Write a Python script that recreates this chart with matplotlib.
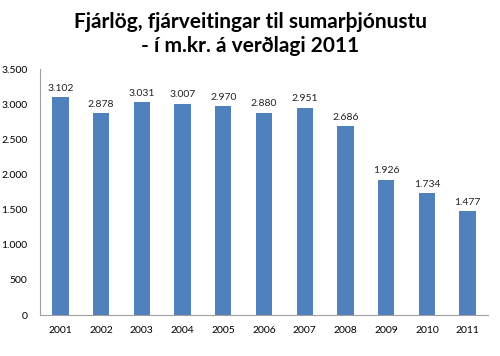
import matplotlib
matplotlib.use('Agg')
import matplotlib.pyplot as plt

years = ['2001', '2002', '2003', '2004', '2005', '2006', '2007', '2008', '2009', '2010', '2011']
values = [3102, 2878, 3031, 3007, 2970, 2880, 2951, 2686, 1926, 1734, 1477]
yticks = [0, 500, 1000, 1500, 2000, 2500, 3000, 3500]

def isl(v):
    return f'{v:,}'.replace(',', '.')

plt.rcParams['font.family'] = ['Lato', 'DejaVu Sans']

fig = plt.figure(figsize=(5, 3.56), dpi=100)
ax = fig.add_axes([0.08, 0.115, 0.896, 0.691])

x = range(len(years))
ax.bar(x, values, width=0.4, color='#4F81BD')
for i, v in zip(x, values):
    ax.text(i, v + 60, isl(v), ha='center', va='bottom', fontsize=7.5, color='#222222')

ax.set_xlim(-0.5, len(years) - 0.5)
ax.set_ylim(0, 3500)
ax.set_xticks(list(x))
ax.set_xticklabels(years, fontsize=7.5)
ax.set_yticks(yticks)
ax.set_yticklabels([isl(t) for t in yticks], fontsize=7.5)
ax.tick_params(length=0, pad=8)
ax.tick_params(axis='y', pad=9)
for s in ['top', 'right']:
    ax.spines[s].set_visible(False)
for s in ['left', 'bottom']:
    ax.spines[s].set_color('#A0A0A0')

fig.text(0.5, 0.965, 'Fjárlög, fjárveitingar til sumarþjónustu\n- í m.kr. á verðlagi 2011',
         ha='center', va='top', fontsize=15, fontweight='bold', linespacing=1.25)

fig.savefig('out.png', dpi=100)
